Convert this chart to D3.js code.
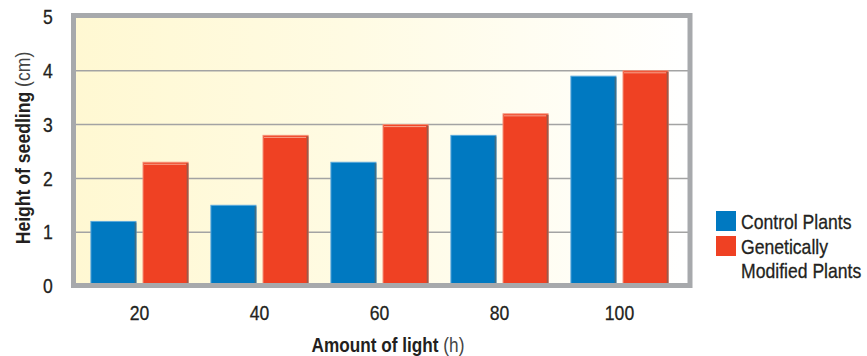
<!DOCTYPE html>
<html><head><meta charset="utf-8">
<script src="https://cdn.jsdelivr.net/npm/d3@7"></script>
<style>
html,body{margin:0;padding:0;background:#fff;}
text{font-family:"Liberation Sans",Arial,sans-serif;fill:#231f20;}
</style></head>
<body><svg id="c" width="867" height="356"></svg>
<script>
const categories = ["20","40","60","80","100"];
const controlValues = [1.2, 1.5, 2.3, 2.8, 3.9];
const gmValues = [2.3, 2.8, 3.0, 3.2, 4.0];
const yTicks = [0,1,2,3,4,5];
const seriesNames = ["Control Plants","Genetically Modified Plants"];
const seriesKeys = ["control","gm"];
const colors = ["#0079c1","#ef4123"];

const svg = d3.select("#c");
const plot = {left:73.5, right:690, top:15.5, bottom:285.5};

const y = d3.scaleLinear().domain([0,5]).range([286,17]);
const x0 = d3.scaleBand().domain(categories).range([79.5,679.5]).paddingInner(0.19).paddingOuter(0.095);
const x1 = d3.scaleBand().domain(seriesKeys).range([0,x0.bandwidth()]).paddingInner(0.135);

const defs = svg.append("defs");
const g = defs.append("linearGradient").attr("id","bg").attr("x1","0").attr("y1","0").attr("x2","1").attr("y2","0");
g.append("stop").attr("offset","0").attr("stop-color","#fff8d2");
g.append("stop").attr("offset","0.45").attr("stop-color","#fffbe3");
g.append("stop").attr("offset","1").attr("stop-color","#ffffff");

svg.append("rect").attr("x",plot.left).attr("y",plot.top)
  .attr("width",plot.right-plot.left).attr("height",plot.bottom-plot.top).attr("fill","url(#bg)");

// gridlines
svg.append("g").selectAll("line").data(yTicks.filter(d=>d>0&&d<5)).join("line")
  .attr("x1",plot.left).attr("x2",plot.right).attr("y1",d=>y(d)).attr("y2",d=>y(d))
  .attr("stroke","#a3a3a3").attr("stroke-width",1.5);

const rows = categories.map((c,i)=>({cat:c, vals:[{k:"control",v:controlValues[i],c:0},{k:"gm",v:gmValues[i],c:1}]}));
const groups = svg.append("g").selectAll("g").data(rows).join("g")
  .attr("transform",d=>`translate(${x0(d.cat)},0)`);
const bars = groups.selectAll("g").data(d=>d.vals).join("g");
bars.append("rect").attr("x",d=>x1(d.k)).attr("y",d=>y(d.v))
  .attr("width",x1.bandwidth()).attr("height",d=>y(0)-y(d.v))
  .attr("fill",d=>colors[d.c])
  .attr("stroke",d=>d.c===0?"#5aa9dc":"#f58f76").attr("stroke-width",1);
bars.append("line").attr("x1",d=>x1(d.k)+x1.bandwidth()-0.5).attr("x2",d=>x1(d.k)+x1.bandwidth()-0.5)
  .attr("y1",d=>y(d.v)+1).attr("y2",y(0))
  .attr("stroke",d=>d.c===0?"#3f6f86":"#9a5a4c").attr("stroke-width",1.8);
bars.filter(d=>d.c===1).append("line").attr("x1",d=>x1(d.k)+1).attr("x2",d=>x1(d.k)+x1.bandwidth()-2)
  .attr("y1",d=>y(d.v)+2).attr("y2",d=>y(d.v)+2).attr("stroke","#f7a58f").attr("stroke-width",1);

// frame
svg.append("rect").attr("x",plot.left).attr("y",plot.top)
  .attr("width",plot.right-plot.left).attr("height",plot.bottom-plot.top)
  .attr("fill","none").attr("stroke","#a7a9ac").attr("stroke-width",5);

const condensed = (sel, x, yy, sx, rot) =>
  sel.attr("transform", d => `translate(${typeof x==="function"?x(d):x},${typeof yy==="function"?yy(d):yy})${rot?" rotate("+rot+")":""} scale(${sx},1)`);

// y tick labels
condensed(svg.append("g").selectAll("text").data(yTicks).join("text"), 48, d=>y(d), 0.88)
  .attr("dy","0.36em").attr("text-anchor","middle")
  .attr("font-size",20).attr("stroke","#231f20").attr("stroke-width",0.3).text(d=>d);

// x tick labels
condensed(svg.append("g").selectAll("text").data(categories).join("text"), d=>x0(d)+x0.bandwidth()/2, 320, 0.88)
  .attr("text-anchor","middle").attr("font-size",20).attr("stroke","#231f20").attr("stroke-width",0.3).text(d=>d);

// axis titles
const xt = condensed(svg.append("text"), 388, 352, 0.86).attr("text-anchor","middle").attr("font-size",20);
xt.append("tspan").attr("font-weight","bold").text("Amount of light");
xt.append("tspan").attr("fill","#444").text(" (h)");

const yt = condensed(svg.append("text"), 30, 148, 0.88, -90).attr("text-anchor","middle").attr("font-size",20);
yt.append("tspan").attr("font-weight","bold").text("Height of seedling");
yt.append("tspan").attr("fill","#444").text(" (cm)");

// legend
const lg = svg.append("g");
lg.selectAll("rect").data(colors).join("rect")
  .attr("x",716).attr("y",(d,i)=>211+i*25).attr("width",20).attr("height",20).attr("fill",d=>d);
const legendLines = [["Control Plants",229],["Genetically",254],["Modified Plants",278]];
condensed(lg.selectAll("text").data(legendLines).join("text"), 741, d=>d[1], 0.88)
  .attr("font-size",20).attr("stroke","#231f20").attr("stroke-width",0.3).text(d=>d[0]);
</script></body></html>
